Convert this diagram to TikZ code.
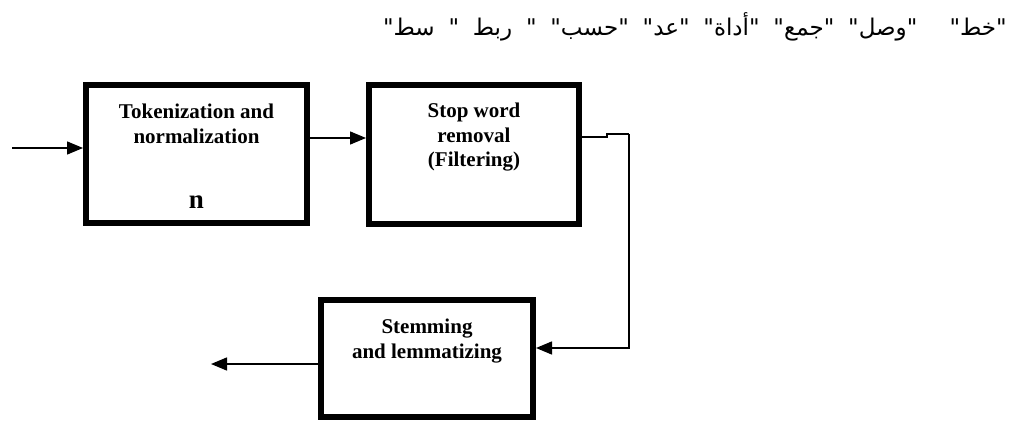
\documentclass[tikz,border=0pt]{standalone}
\usepackage{fontspec}
\setmainfont{Liberation Serif}
\newfontfamily\arabicfont[Script=Arabic]{DejaVu Sans}
\TeXXeTstate=1
\usepackage{tikz}
\usetikzlibrary{arrows.meta, positioning}

\tikzset{
    stagebox/.style={draw, line width=6pt, rectangle, inner sep=0pt},
    stagetext/.style={anchor=north, inner sep=0pt, align=center, font=\bfseries\fontsize{21}{24.5}\selectfont},
    flow/.style={line width=1.5pt, -{Triangle[length=16pt,width=13pt]}},
    wire/.style={line width=1.5pt}
}

\begin{document}
\begin{tikzpicture}[x=1pt, y=-1pt]
    \useasboundingbox (0,0) rectangle (1017,422);

    % arabic caption line
    \node[anchor=base east, inner sep=0pt, font=\arabicfont\fontsize{23}{27}\selectfont] (caption) at (1007,36)
        {\spaceskip=0.6em\beginR"خط"\hspace{1.4em}"وصل" "جمع" "أداة" "عد" "حسب" " ربط " سط"\endR};

    % boxes
    \node[stagebox, minimum width=221pt, minimum height=138pt] (tok) at (196.5,154) {};
    \node[stagebox, minimum width=210pt, minimum height=139pt] (stop) at (474,154.5) {};
    \node[stagebox, minimum width=212pt, minimum height=117pt] (stem) at (427,358.5) {};

    \node[stagetext] (toktext) at (196.5,104) {Tokenization and\\normalization};
    \node[anchor=base, inner sep=0pt, font=\bfseries\fontsize{27}{27}\selectfont] (tokn) at (196.5,208) {n};
    \node[stagetext] (stoptext) at (474,103) {Stop word\\removal\\(Filtering)};
    \node[stagetext] (stemtext) at (427,319) {Stemming\\and lemmatizing};

    % connectors
    \coordinate (in) at (12,148);
    \coordinate (link) at (330,138);
    \coordinate (jog) at (607,134);
    \coordinate (turn) at (629,134);
    \coordinate (out) at (211,364);

    \draw[flow] (in) -- (tok.west |- in);
    \draw[flow] (tok.east |- link) -- (stop.west |- link);
    \draw[wire] ([yshift=17.5pt]stop.east) -| (jog) -- (turn);
    \draw[flow] (turn) |- ([yshift=10.5pt]stem.east);
    \draw[flow] (stem.west |- out) -- (out);
\end{tikzpicture}
\end{document}
